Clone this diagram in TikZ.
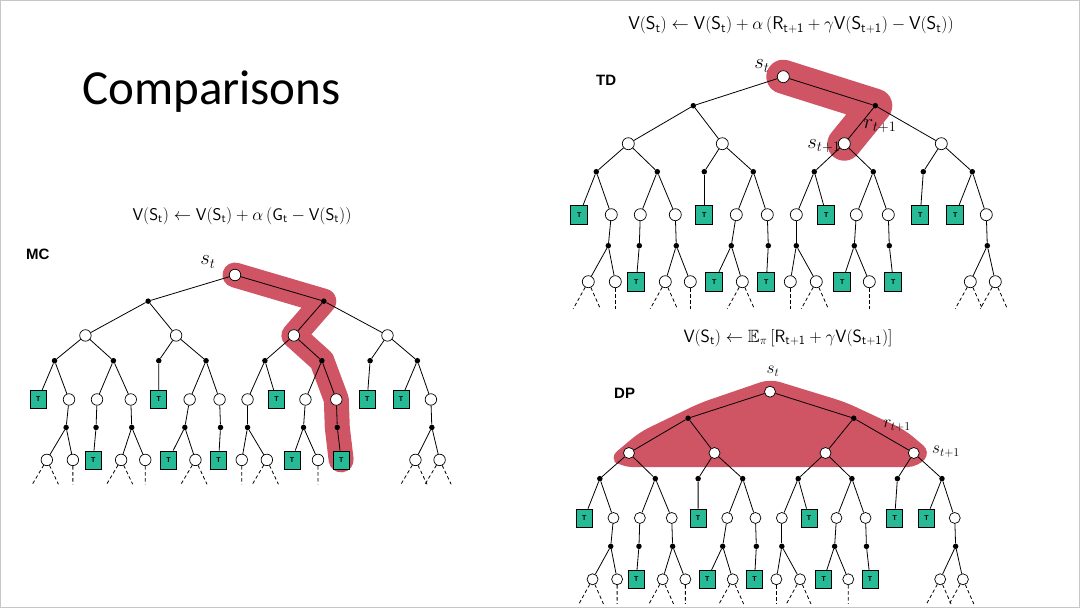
\documentclass[tikz,border=0pt]{standalone}
\usepackage{amssymb}
\usepackage{fontspec}
\usetikzlibrary{backgrounds}
\newfontfamily\calib{Carlito}
\newfontfamily\arialf{Liberation Sans}
\definecolor{tgreen}{RGB}{38,186,150}
\definecolor{hlred}{RGB}{207,84,100}
\newcommand{\VS}[1]{\mathsf{V}(\mathsf{S}_{\mathsf{#1}})}
\newcommand{\BTree}[1]{%
  \node[st] (#1r) at (0,0) {};
  \node[act] (#1a1) at (-90,29) {};
  \node[act] (#1a2) at (92,29) {};
  \node[st] (#1s1) at (-155,67) {};
  \node[st] (#1s2) at (-61,67) {};
  \node[st] (#1s3) at (61,67) {};
  \node[st] (#1s4) at (158,67) {};
  \foreach \n/\x in {b1/-187,b2/-126,b3/-79,b4/-30,b5/31,b6/90,b7/140,b8/189}
    \node[act] (#1\n) at (\x,95) {};
  \foreach \n/\x in {c2/-172,c3/-143,c4/-108,c6/-47,c7/-16,c8/13,c10/73,c11/105,c14/203}
    \node[st] (#1\n) at (\x,138) {};
  \foreach \n/\x in {c1/-204,c5/-79,c9/43,c12/137,c13/172}
    \node[term] (#1\n) at (\x,138) {T};
  \foreach \n/\x in {d1/-175,d2/-144,d3/-107,d4/-52,d5/-15,d6/13,d7/71,d8/106,d9/204}
    \node[act] (#1\n) at (\x,169) {};
  \foreach \n/\x in {e1/-195,e2/-168,e4/-118,e5/-93,e7/-41,e9/7,e10/33,e12/86,e14/187,e15/212}
    \node[st] (#1\n) at (\x,205) {};
  \foreach \n/\x in {e3/-147,e6/-69,e8/-17,e11/59,e13/110}
    \node[term] (#1\n) at (\x,205) {T};
  \foreach \p/\c in {r/a1,r/a2,a1/s1,a1/s2,a2/s3,a2/s4,s1/b1,s1/b2,s2/b3,s2/b4,
      s3/b5,s3/b6,s4/b7,s4/b8,b1/c1,b1/c2,b2/c3,b2/c4,b3/c5,b4/c6,b4/c7,b5/c8,
      b5/c9,b6/c10,b6/c11,b7/c12,b8/c13,b8/c14,c2/d1,c3/d2,c4/d3,c6/d4,c7/d5,
      c8/d6,c10/d7,c11/d8,c14/d9,d1/e1,d1/e2,d2/e3,d3/e4,d3/e5,d4/e6,d4/e7,
      d5/e8,d6/e9,d6/e10,d7/e11,d7/e12,d8/e13,d9/e14,d9/e15}
    \draw[edge] (#1\p) -- (#1\c);
  \foreach \n/\x in {e1/-195,e4/-118,e7/-41,e10/33,e14/187,e15/212}{
    \coordinate (#1\n L) at (\x-15,232);
    \coordinate (#1\n R) at (\x+12,232);
    \draw[dsh] (#1\n) -- (#1\n L);
    \draw[dsh] (#1\n) -- (#1\n R);}
  \foreach \n/\x in {e2/-168,e5/-93,e9/7,e12/86}{
    \coordinate (#1\n D) at (\x,232);
    \draw[dsh] (#1\n) -- (#1\n D);}
}
\begin{document}
\begin{tikzpicture}[x=1pt,y=-1pt,
  st/.style={circle,draw,fill=white,inner sep=0pt,minimum size=12pt,line width=0.7pt},
  act/.style={circle,fill=black,inner sep=0pt,minimum size=5.5pt},
  term/.style={rectangle,draw,fill=tgreen,inner sep=0pt,minimum width=17pt,minimum height=19pt,
    line width=0.7pt,font=\arialf\bfseries\fontsize{7}{8}\selectfont},
  edge/.style={line width=0.8pt},
  dsh/.style={line width=0.8pt,dash pattern=on 3.5pt off 2.5pt},
  hl/.style={draw=hlred,line cap=round,line join=round},
  lbl/.style={inner sep=0pt,font=\fontsize{20}{24}\selectfont},
  ttl/.style={inner sep=0pt,font=\arialf\bfseries\fontsize{15}{18}\selectfont},
  eqn/.style={inner sep=0pt,font=\fontsize{17}{20}\selectfont}]
\useasboundingbox (0,0) rectangle (1080,610);
\begin{pgfonlayer}{background}
  \fill[white] (0,0) rectangle (1080,610);
\end{pgfonlayer}
\draw[gray!45,line width=1pt] (0.5,0.5) rectangle (1079.5,607.5);

% titles and equations
\node[anchor=west,inner sep=0pt,font=\calib\fontsize{49}{54}\selectfont] (title) at (82,92) {Comparisons};
\node[ttl,anchor=west] (mclab) at (26,254) {MC};
\node[ttl,anchor=west] (tdlab) at (596,80) {TD};
\node[ttl,anchor=west] (dplab) at (614,393) {DP};
\node[eqn] (mceq) at (242,216) {$\VS{t}\leftarrow\VS{t}+\alpha\,(\mathsf{G}_{\mathsf{t}}-\VS{t})$};
\node[eqn,font=\fontsize{18.5}{22}\selectfont] (tdeq) at (791,25) {$\VS{t}\leftarrow\VS{t}+\alpha\,(\mathsf{R}_{\mathsf{t+1}}+\gamma\VS{t+1}-\VS{t})$};
\node[eqn,font=\fontsize{17.8}{21}\selectfont] (dpeq) at (788,338) {$\VS{t}\leftarrow\mathbb{E}_\pi\,[\mathsf{R}_{\mathsf{t+1}}+\gamma\VS{t+1}]$};

% MC tree
\begin{scope}[shift={(235,275)},xscale=0.965,yscale=0.902,
  st/.append style={minimum size=11.5pt},term/.append style={minimum width=16pt,minimum height=18pt}]
  \BTree{mc}
  \begin{pgfonlayer}{background}
    \draw[hl,line width=25pt] (mcr.center) -- (mca2.center) -- (mcs3.center) -- (mcb6.center)
      -- (mcc11.center) -- (mcd8.center) -- (mce13.center);
  \end{pgfonlayer}
\end{scope}
\node[lbl] (mcst) at (208,262) {$s_t$};

% TD tree
\begin{scope}[shift={(783.3,76.7)}]
  \BTree{td}
  \begin{pgfonlayer}{background}
    \draw[hl,line width=34pt] (tdr.center) -- (tda2.center) -- (tds3.center);
  \end{pgfonlayer}
\end{scope}
\node[lbl,font=\fontsize{22}{26}\selectfont] (tdst) at (762,66) {$s_t$};
\node[lbl,font=\fontsize{22}{26}\selectfont] (tdr1) at (880,126) {$r_{t+1}$};
\node[lbl,font=\fontsize{22}{26}\selectfont] (tds1) at (824,146) {$s_{t+1}$};

% DP tree
\begin{scope}[shift={(770,391.7)},xscale=0.91,yscale=0.915,
  st/.append style={minimum size=11pt},term/.append style={minimum width=16pt,minimum height=18pt}]
  \BTree{dp}
\end{scope}
\begin{pgfonlayer}{background}
  \fill[hlred,rounded corners=10pt] (609,458) -- (640,432) -- (700,403) -- (770,379)
    -- (845,402) -- (905,430) -- (931,452) -- (918,467) -- (622,467) -- cycle;
\end{pgfonlayer}
\node[lbl,font=\fontsize{17}{20}\selectfont] (dpst) at (773,371) {$s_t$};
\node[lbl,font=\fontsize{18}{21}\selectfont] (dpr1) at (897,426) {$r_{t+1}$};
\node[lbl,font=\fontsize{18}{21}\selectfont] (dps1) at (946,452) {$s_{t+1}$};
\end{tikzpicture}
\end{document}
